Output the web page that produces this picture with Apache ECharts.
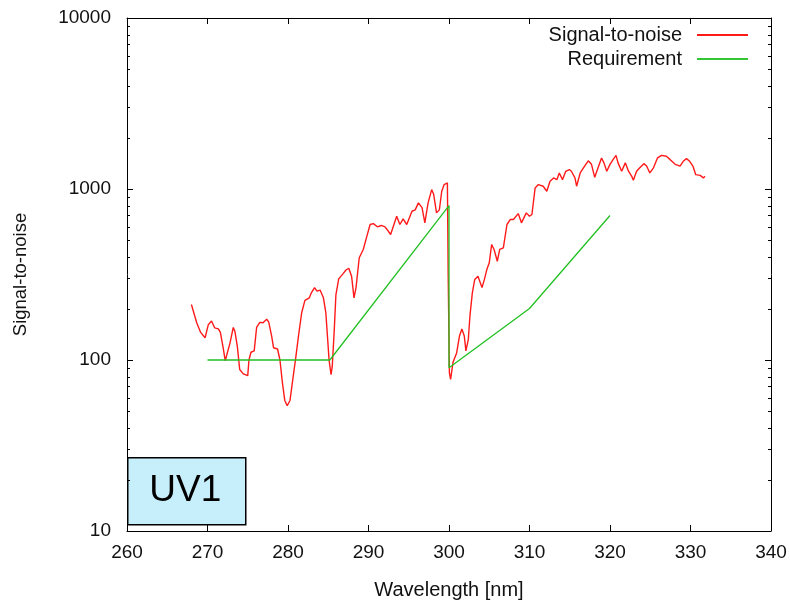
<!DOCTYPE html>
<html>
<head>
<meta charset="utf-8">
<script src="https://cdn.jsdelivr.net/npm/echarts@6/dist/echarts.min.js"></script>
<style>html,body{margin:0;padding:0;background:#fff;}#c{width:790px;height:605px;}</style>
</head>
<body>
<div id="c"></div>
<script>
// Signal-to-noise curve
const snrWavelength = [268.0,268.66,269.15,269.7,270.1,270.5,270.9,271.35,271.6,271.97,272.2,272.4,272.8,273.2,273.4,273.7,274.0,274.45,275.0,275.15,275.4,275.8,276.1,276.5,276.9,277.35,277.6,277.97,278.2,278.7,279.0,279.3,279.6,279.9,280.25,280.66,280.96,281.3,281.7,282.1,282.65,282.9,283.3,283.6,284.0,284.4,284.7,284.9,285.1,285.35,285.5,285.75,285.95,286.3,286.8,287.2,287.55,287.9,288.2,288.45,288.85,289.35,289.8,290.2,290.6,291.1,291.6,292.05,292.3,292.75,293.1,293.5,293.9,294.3,294.75,295.4,295.8,296.2,296.65,297.0,297.4,297.85,298.1,298.45,298.8,299.1,299.4,299.6,299.8,299.9,300.05,300.2,300.5,300.95,301.3,301.6,301.9,302.1,302.4,302.6,302.9,303.2,303.6,304.1,304.4,304.7,305.0,305.3,305.6,306.0,306.3,306.75,307.2,307.6,308.0,308.6,309.0,309.6,310.0,310.3,310.7,311.1,311.7,312.15,312.55,313.0,313.4,313.7,314.1,314.5,314.95,315.2,315.65,315.85,316.3,316.7,317.3,317.7,318.1,318.55,318.95,319.25,319.6,320.0,320.4,320.75,321.0,321.45,321.9,322.3,322.7,322.9,323.3,323.7,324.2,324.55,324.95,325.4,325.9,326.4,327.0,327.45,328.1,328.7,329.1,329.5,329.9,330.3,330.65,331.2,331.6,331.8];
const snrValues = [211,165,145,135,161,169,154,152,145,116,99,100,126,155,147,121,88,83,81,100,111,113,155,166,165,173,167,138,118,116,100,74,58,54,58,81,103,138,189,223,231,247,265,253,256,231,189,138,100,82,92,151,240,298,318,336,344,309,231,265,396,443,530,620,627,601,612,601,580,542,607,693,620,669,620,741,755,830,778,634,830,992,928,725,755,970,1061,1038,1085,310,84,77,97,110,138,152,138,113,132,181,247,296,309,265,296,338,370,474,443,378,443,453,620,663,663,718,634,725,693,709,1015,1061,1038,970,1109,1161,1134,1241,1134,1269,1299,1270,1161,1038,1241,1330,1462,1394,1170,1345,1519,1422,1270,1394,1490,1573,1422,1270,1422,1270,1186,1124,1269,1330,1407,1362,1241,1330,1519,1573,1553,1490,1394,1362,1452,1506,1452,1362,1213,1202,1161,1186];
// Requirement curve
const reqWavelength = [270, 285.2, 300, 300, 310, 320];
const reqValues = [100, 100, 800, 90, 200, 700];
// Axis settings
const xTicks = [260, 270, 280, 290, 300, 310, 320, 330, 340];
const yMinorTicks = [20,30,40,50,60,70,80,90,200,300,400,500,600,700,800,900,2000,3000,4000,5000,6000,7000,8000,9000];
const seriesNames = ['Signal-to-noise', 'Requirement'];

const FONT = 'Liberation Sans, Arial, sans-serif';
const chart = echarts.init(document.getElementById('c'));

const snrData = snrWavelength.map((x, i) => [x, snrValues[i]]);
const reqData = reqWavelength.map((x, i) => [x, reqValues[i]]);

const legendBase = {
  orient: 'horizontal', align: 'right', right: 37,
  itemWidth: 51, itemHeight: 2, icon: 'rect',
  textStyle: { fontFamily: FONT, fontSize: 20, color: '#111', padding: [0, 10, 0, 0] },
  selectedMode: false
};

chart.setOption({
  animation: false,
  backgroundColor: '#ffffff',
  grid: { left: 127, right: 19, top: 18, bottom: 73, containLabel: false },
  legend: [
    Object.assign({}, legendBase, { top: 20, data: [seriesNames[0]] }),
    Object.assign({}, legendBase, { top: 44, data: [seriesNames[1]] })
  ],
  xAxis: [{
    type: 'value', min: xTicks[0], max: xTicks[xTicks.length - 1], interval: 10,
    position: 'bottom',
    name: 'Wavelength [nm]', nameLocation: 'middle', nameGap: 49,
    nameTextStyle: { fontFamily: FONT, fontSize: 20, color: '#111' },
    axisLine: { show: true, lineStyle: { color: '#000', width: 1 } },
    axisTick: { show: true, inside: true, length: 6, lineStyle: { color: '#000' } },
    axisLabel: { fontFamily: FONT, fontSize: 19, color: '#111', margin: 12 },
    splitLine: { show: false }
  }, {
    type: 'value', min: xTicks[0], max: xTicks[xTicks.length - 1], interval: 10,
    position: 'top',
    axisLine: { show: true, lineStyle: { color: '#000', width: 1 } },
    axisTick: { show: true, inside: true, length: 6, lineStyle: { color: '#000' } },
    axisLabel: { show: false },
    splitLine: { show: false }
  }],
  yAxis: [{
    type: 'log', logBase: 10, min: 10, max: 10000,
    position: 'left',
    name: 'Signal-to-noise', nameLocation: 'middle', nameGap: 97, nameRotate: 90,
    nameTextStyle: { fontFamily: FONT, fontSize: 18.5, color: '#111' },
    axisLine: { show: true, lineStyle: { color: '#000', width: 1 } },
    axisTick: { show: true, inside: true, length: 6, lineStyle: { color: '#000' } },
    axisLabel: { fontFamily: FONT, fontSize: 19, color: '#111', margin: 16,
      formatter: v => String(Math.round(v)) },
    splitLine: { show: false }
  }, {
    type: 'log', logBase: 10, min: 10, max: 10000,
    position: 'right',
    axisLine: { show: true, lineStyle: { color: '#000', width: 1 } },
    axisTick: { show: true, inside: true, length: 6, lineStyle: { color: '#000' } },
    axisLabel: { show: false },
    splitLine: { show: false }
  }],
  series: [{
    name: 'minorTicks', type: 'custom', silent: true, xAxisIndex: 0, yAxisIndex: 0,
    data: yMinorTicks.map(v => [xTicks[0], v]),
    renderItem: function (params, api) {
      const v = api.value(1);
      const pl = api.coord([xTicks[0], v]);
      const pr = api.coord([xTicks[xTicks.length - 1], v]);
      const y = Math.round(pl[1]) + 0.5;
      return {
        type: 'group', children: [
          { type: 'line', shape: { x1: pl[0], y1: y, x2: pl[0] + 3, y2: y }, style: { stroke: '#000', lineWidth: 1 } },
          { type: 'line', shape: { x1: pr[0], y1: y, x2: pr[0] - 3, y2: y }, style: { stroke: '#000', lineWidth: 1 } }
        ]
      };
    },
    z: 1
  }, {
    name: seriesNames[0], type: 'line', data: snrData, showSymbol: false, symbol: 'none',
    lineStyle: { color: '#ff1a1a', width: 1.4 }, itemStyle: { color: '#ff1a1a' }, z: 3
  }, {
    name: seriesNames[1], type: 'line', data: reqData, showSymbol: false, symbol: 'none',
    lineStyle: { color: '#22c022', width: 1.3 }, itemStyle: { color: '#33c833' }, z: 4
  }],
  graphic: [{
    type: 'group', left: 127, top: 457, z: 100,
    children: [
      { type: 'rect', shape: { x: 0.5, y: 0.5, width: 118, height: 67 },
        style: { fill: '#c7eefb', stroke: '#000', lineWidth: 1.5 } },
      { type: 'text', x: 58, y: 34,
        style: { text: 'UV1', font: '37px ' + FONT, fill: '#000', align: 'center', verticalAlign: 'middle' } }
    ]
  }]
});
</script>
</body>
</html>
